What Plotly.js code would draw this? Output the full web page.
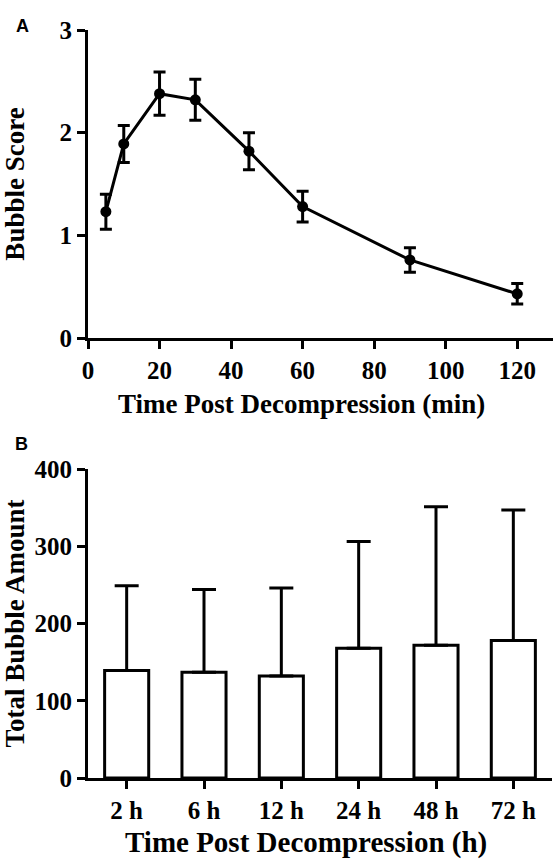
<!DOCTYPE html>
<html>
<head>
<meta charset="utf-8">
<script src="https://cdn.plot.ly/plotly-3.0.1.min.js"></script>
<style>html,body{margin:0;padding:0;background:#fff;}#chart{width:558px;height:862px;}</style>
</head>
<body>
<div id="chart"></div>
<script>
// Panel A: bubble score over time (min)
const timeMin = [5, 10, 20, 30, 45, 60, 90, 120];
const bubbleScore = [1.23, 1.89, 2.38, 2.32, 1.82, 1.28, 0.76, 0.43];
const bubbleScoreErr = [0.17, 0.18, 0.21, 0.20, 0.18, 0.15, 0.12, 0.10];
const xTicksA = [0, 20, 40, 60, 80, 100, 120];
const yTicksA = [0, 1, 2, 3];
const xTitleA = 'Time Post Decompression (min)';
const yTitleA = 'Bubble Score';

// Panel B: total bubble amount over time (h)
const timeHours = ['2 h', '6 h', '12 h', '24 h', '48 h', '72 h'];
const totalBubble = [139, 137, 132, 168, 172, 178];
const totalBubbleSD = [110, 107, 114, 138, 179, 169];
const yTicksB = [0, 100, 200, 300, 400];
const xTitleB = 'Time Post Decompression (h)';
const yTitleB = 'Total Bubble Amount';

const serif = 'Liberation Serif, Times New Roman, serif';
const tickFont = {family: serif, size: 25, color: '#000', weight: 'bold'};
const titleFont = {family: serif, size: 27, color: '#000', weight: 'bold'};
const titleFontB = {family: serif, size: 29, color: '#000', weight: 'bold'};

const traceA = {
  x: timeMin, y: bubbleScore, type: 'scatter', mode: 'lines+markers',
  xaxis: 'x', yaxis: 'y',
  line: {color: '#000', width: 3},
  marker: {color: '#000', size: 11},
  error_y: {type: 'data', array: bubbleScoreErr, visible: true, color: '#000', thickness: 3, width: 6},
  showlegend: false, cliponaxis: false
};

const traceB = {
  x: timeHours, y: totalBubble, type: 'bar',
  xaxis: 'x2', yaxis: 'y2',
  marker: {color: '#fff', line: {color: '#000', width: 3}},
  error_y: {type: 'data', symmetric: false, array: totalBubbleSD, arrayminus: totalBubble.map(() => 0), visible: true, color: '#000', thickness: 3, width: 12},
  showlegend: false
};

const axisCommon = {
  showgrid: false, zeroline: false, showline: true, linecolor: '#000', linewidth: 3,
  ticks: 'outside', ticklen: 8, tickwidth: 3, tickcolor: '#000',
  tickfont: tickFont, automargin: false
};

const layout = {
  width: 558, height: 862,
  margin: {l: 0, r: 0, t: 0, b: 0},
  paper_bgcolor: '#fff', plot_bgcolor: '#fff',
  bargap: 0.43,
  xaxis: Object.assign({}, axisCommon, {
    domain: [88/558, 553/558], range: [0, 130], tickvals: xTicksA,
    anchor: 'y', ticklabelstandoff: 0
  }),
  yaxis: Object.assign({}, axisCommon, {
    domain: [1 - 338/862, 1 - 30/862], range: [0, 3], tickvals: yTicksA,
    anchor: 'x', ticklabelstandoff: 0,
    title: {text: yTitleA, font: titleFont, standoff: 30}
  }),
  xaxis2: Object.assign({}, axisCommon, {
    domain: [88/558, 552/558], range: [-0.5, 5.5], type: 'category',
    anchor: 'y2'
  }),
  yaxis2: Object.assign({}, axisCommon, {
    domain: [1 - 778/862, 1 - 469/862], range: [0, 400], tickvals: yTicksB,
    anchor: 'x2', ticklabelstandoff: 0,
    title: {text: yTitleB, font: titleFont, standoff: 10}
  }),
  annotations: [
    {text: xTitleA, x: 301/558, y: 1 - 404/862, xref: 'paper', yref: 'paper', showarrow: false,
     xanchor: 'center', yanchor: 'middle', font: titleFont},
    {text: xTitleB, x: 306/558, y: 1 - 842/862, xref: 'paper', yref: 'paper', showarrow: false,
     xanchor: 'center', yanchor: 'middle', font: titleFontB},
    {text: 'A', x: 14/558, y: 1 - 14/862, xref: 'paper', yref: 'paper', showarrow: false,
     font: {family: 'Liberation Sans, Arial, sans-serif', size: 18, color: '#000', weight: 'bold'}},
    {text: 'B', x: 13/558, y: 1 - 444/862, xref: 'paper', yref: 'paper', showarrow: false,
     font: {family: 'Liberation Sans, Arial, sans-serif', size: 18, color: '#000', weight: 'bold'}}
  ]
};

Plotly.newPlot('chart', [traceA, traceB], layout, {staticPlot: true, displayModeBar: false});
</script>
</body>
</html>
